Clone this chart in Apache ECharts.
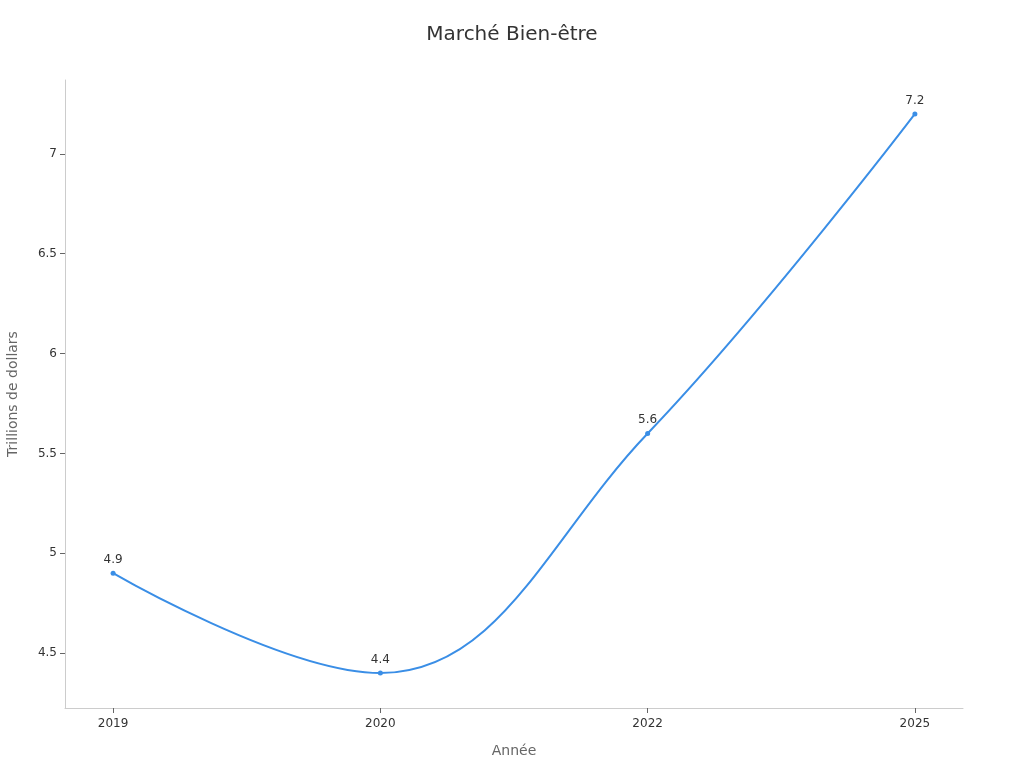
<!DOCTYPE html>
<html>
<head>
<meta charset="utf-8">
<script src="https://cdn.jsdelivr.net/npm/echarts@6/dist/echarts.min.js"></script>
<style>
  html, body { margin: 0; padding: 0; background: #fff; }
  #chart { width: 1024px; height: 768px; }
</style>
</head>
<body>
<div id="chart"></div>
<script>
// données
const years = ['2019', '2020', '2022', '2025'];
const marketValues = [4.9, 4.4, 5.6, 7.2];
const yTicks = [4.5, 5, 5.5, 6, 6.5, 7];

const chart = echarts.init(document.getElementById('chart'));
const font = '"DejaVu Sans", sans-serif';

chart.setOption({
  animation: false,
  textStyle: { fontFamily: font },
  title: {
    text: 'Marché Bien-être',
    left: 'center',
    top: 20,
    textStyle: { fontSize: 20, fontWeight: 'normal', color: '#333', fontFamily: font }
  },
  grid: { left: 65, right: 61, top: 80, bottom: 60, outerBoundsMode: 'none', containLabel: false },
  xAxis: {
    type: 'value',
    min: -0.18,
    max: 3.18,
    name: 'Année',
    nameLocation: 'middle',
    nameGap: 36,
    nameTextStyle: { color: '#666', fontSize: 14 },
    axisLine: { show: true, onZero: false, lineStyle: { color: '#ccc' } },
    axisTick: { show: true, customValues: [0, 1, 2, 3], lineStyle: { color: '#666' } },
    axisLabel: {
      customValues: [0, 1, 2, 3],
      formatter: v => years[Math.round(v)],
      color: '#333', fontSize: 12, margin: 10
    },
    splitLine: { show: false }
  },
  yAxis: {
    type: 'value',
    min: 4.225,
    max: 7.37,
    name: 'Trillions de dollars',
    nameLocation: 'middle',
    nameGap: 45,
    nameTextStyle: { color: '#666', fontSize: 14 },
    axisLine: { show: true, onZero: false, lineStyle: { color: '#ccc' } },
    axisTick: { show: true, customValues: yTicks, lineStyle: { color: '#666' } },
    axisLabel: { customValues: yTicks, color: '#333', fontSize: 12, margin: 8 },
    splitLine: { show: false }
  },
  series: [{
    type: 'line',
    smooth: 0.4,
    data: marketValues.map((v, i) => [i, v]),
    symbol: 'circle',
    symbolSize: 5,
    lineStyle: { color: '#3a8ee6', width: 2 },
    itemStyle: { color: '#3a8ee6' },
    label: {
      show: true,
      position: 'top',
      color: '#333',
      fontSize: 12,
      formatter: p => p.value[1]
    }
  }]
});
</script>
</body>
</html>
